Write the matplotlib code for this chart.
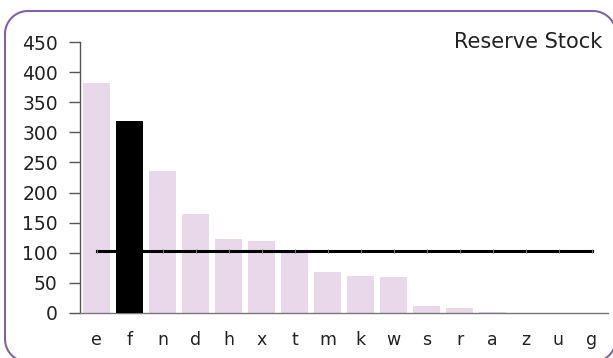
import matplotlib
matplotlib.use("Agg")
import matplotlib.pyplot as plt
import numpy as np
from matplotlib.lines import Line2D

categories = ["e", "f", "n", "d", "h", "x", "t", "m", "k", "w", "s", "r", "a", "z", "u", "g"]
values = [382, 318, 236, 164, 123, 119, 100, 68, 61, 59, 11, 8, 1.5, 0, 0, 0]
highlight = "f"
reference_value = 103
yticks = [0, 50, 100, 150, 200, 250, 300, 350, 400, 450]
title = "Reserve Stock"

plt.rcParams['font.family'] = ['DejaVu Sans']

fig = plt.figure(figsize=(6.13, 3.58), dpi=100)
W, H = 613, 358
ax = fig.add_axes([80 / W, 1 - 313 / H, 528 / W, 271 / H])

x = list(range(len(categories)))
for i, (c, v) in enumerate(zip(categories, values)):
    if c == highlight:
        ax.bar(i, v, width=0.82, color="#000000", zorder=4)
    else:
        ax.bar(i, v, width=0.82, color="#e8d8ea", zorder=2)
ax.plot(x, [reference_value] * len(x), color="#000000", lw=2.2, zorder=3,
        marker="|", markersize=3, markeredgecolor="#777777", markeredgewidth=0.8)

ax.set_xlim(-0.5, len(categories) - 0.5)
ax.set_ylim(0, 450)
ax.set_yticks(yticks)
ax.set_yticklabels([str(v) for v in yticks], fontsize=13.5, color="#222222")
ax.set_xticks(x)
ax.set_xticklabels(categories, fontsize=12.5, color="#222222")
ax.tick_params(axis="x", length=0, pad=13)
ax.tick_params(axis="y", length=8, width=1, color="#555555", pad=8)
for s in ["top", "right"]:
    ax.spines[s].set_visible(False)
ax.spines["left"].set_color("#555555")
ax.spines["bottom"].set_color("#777777")
ax.spines["left"].set_linewidth(1)
ax.spines["bottom"].set_linewidth(1)

ax.text(0.99, 1.0, title, transform=ax.transAxes, ha="right", va="center",
        fontsize=15, color="#222222")

# rounded frame, built in pixel units (y downward) then mapped to figure fraction
x0, x1, y0, y1, r = 5, 616, 11, 362, 23
def arc(cx, cy, a0, a1, n=24):
    t = np.linspace(np.radians(a0), np.radians(a1), n)
    return cx + r * np.cos(t), cy + r * np.sin(t)
pts_x, pts_y = [], []
for cx, cy, a0, a1 in [(x0 + r, y0 + r, 180, 270), (x1 - r, y0 + r, 270, 360),
                       (x1 - r, y1 - r, 0, 90), (x0 + r, y1 - r, 90, 180)]:
    ax_, ay_ = arc(cx, cy, a0, a1)
    pts_x.extend(ax_); pts_y.extend(ay_)
pts_x.append(pts_x[0]); pts_y.append(pts_y[0])
pts_x = np.array(pts_x); pts_y = np.array(pts_y)
frame = Line2D(pts_x / W, 1 - pts_y / H, transform=fig.transFigure,
               color="#8064a2", linewidth=1.5)
fig.lines.append(frame)

fig.savefig("out.png", dpi=100)
